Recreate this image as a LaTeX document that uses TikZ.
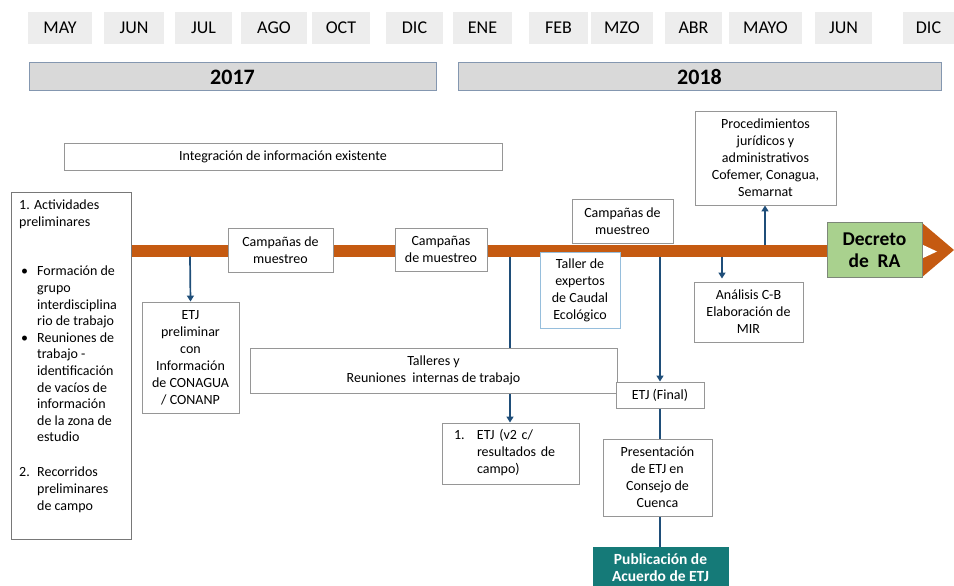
\documentclass[tikz,border=0pt]{standalone}
\usepackage{fontspec}
\setmainfont{Carlito}
\usetikzlibrary{arrows.meta,backgrounds}
\definecolor{monthgray}{RGB}{237,237,237}
\definecolor{yeargray}{RGB}{217,217,217}
\definecolor{yearborder}{RGB}{132,151,176}
\definecolor{boxgray}{RGB}{150,150,150}
\definecolor{darkgray}{RGB}{120,120,120}
\definecolor{tallerblue}{RGB}{150,190,220}
\definecolor{barorange}{RGB}{197,90,17}
\definecolor{connblue}{RGB}{31,78,121}
\definecolor{decgreen}{RGB}{169,209,142}
\definecolor{decborder}{RGB}{125,135,120}
\definecolor{teal}{RGB}{21,122,120}
\newcommand{\bodyfs}{\fontsize{14}{17}\selectfont}
\begin{document}
\begin{tikzpicture}[x=1pt,y=-1pt,
  month/.style={fill=monthgray, inner sep=0pt, font=\fontsize{18}{20}\selectfont},
  yearbar/.style={draw=yearborder, fill=yeargray, line width=1pt, inner sep=0pt, font=\bfseries\fontsize{22}{24}\selectfont},
  box/.style={draw=boxgray, fill=white, line width=0.9pt, align=center, inner sep=0pt, font=\bodyfs},
  conn/.style={draw=connblue, line width=1.7pt},
  arr/.style={conn, -{Triangle[width=7pt,length=6pt]}},
]
\useasboundingbox (0,0) rectangle (954,586);

% months
\foreach \a/\b/\t/\n in {28/92/MAY/m1, 104/164/JUN/m2, 175/232/JUL/m3, 241/307/AGO/m4, 312/370/OCT/m5, 386/443/DIC/m6, 453/512/ENE/m7, 529/588/FEB/m8, 591/653/MZO/m9, 665/722/ABR/m10, 729/802/MAYO/m11, 815/872/JUN/m12, 903/954/DIC/m13}
  \node[month, minimum width={(\b-\a)*1pt}, minimum height=32pt] (\n) at ({(\a+\b)/2},28) {\t};

% years
\node[yearbar, minimum width=407pt, minimum height=28pt] (y2017) at (232.5,77) {2017};
\node[yearbar, minimum width=483pt, minimum height=28pt] (y2018) at (699.5,77) {2018};

% boxes
\node[box, minimum width=438pt, minimum height=27pt] (integ) at (283,156.5) {Integración de información existente};

\node[box, draw=darkgray, minimum width=120pt, minimum height=347pt] (prelim) at (71,365.5) {};
\node[anchor=north west, inner sep=0pt, font=\fontsize{14}{16.6}\selectfont, align=left] (prelimtext) at (19,198) {%
\begin{tabular}{@{}p{18pt}@{}l@{}}
\multicolumn{2}{@{}l@{}}{1. Actividades}\\
\multicolumn{2}{@{}l@{}}{preliminares}\\[32.8pt]
\hspace{2pt}\textbullet & Formación de\\
& grupo\\
& interdisciplina\\
& rio de trabajo\\
\hspace{2pt}\textbullet & Reuniones de\\
& trabajo -\\
& identificación\\
& de vacíos de\\
& información\\
& de la zona de\\
& estudio\\[18.4pt]
2. & Recorridos\\
& preliminares\\
& de campo
\end{tabular}};

\node[box, minimum width=105pt, minimum height=44pt] (camp1) at (280.5,250) {Campañas de\\muestreo};
\node[box, minimum width=92pt, minimum height=43pt] (camp2) at (441,249.5) {Campañas\\de muestreo};
\node[box, minimum width=101pt, minimum height=44pt] (camp3) at (622.5,221) {Campañas de\\muestreo};
\node[box, draw=tallerblue, minimum width=80pt, minimum height=76pt] (taller) at (580,290) {Taller de\\expertos\\de Caudal\\Ecológico};
\node[box, minimum width=97pt, minimum height=111pt] (etjpre) at (190.5,357.5) {ETJ\\preliminar\\con\\Información\\de CONAGUA\\/ CONANP};
\node[box, minimum width=367pt, minimum height=45pt] (talleres) at (433.5,370.5) {Talleres y\\Reuniones\ \ internas de trabajo};
\node[box, align=left, text width=113pt, inner xsep=12pt, minimum height=61pt] (etjv2) at (510.5,453.5) {%
\begin{tabular}{@{}p{23pt}@{}l@{}}
1. & ETJ (v2 c/\\
& resultados de\\
& campo)
\end{tabular}};
\node[box, minimum width=88pt, minimum height=26pt] (final) at (660,395) {ETJ (Final)};
\node[box, minimum width=109pt, minimum height=77pt] (pres) at (657.5,477.5) {Presentación\\de ETJ en\\Consejo de\\Cuenca};
\node[box, draw=teal, fill=teal, text=white, font=\bfseries\fontsize{15.5}{17}\selectfont, minimum width=135pt, minimum height=42pt] (pub) at (660.5,568) {Publicación de\\Acuerdo de ETJ};
\node[box, minimum width=141pt, minimum height=94pt] (proc) at (765.5,158) {Procedimientos\\jurídicos y\\administrativos\\Cofemer, Conagua,\\Semarnat};
\node[box, minimum width=109pt, minimum height=60pt] (analisis) at (748.5,312) {Análisis C-B\\Elaboración de\\MIR};
\node[box, draw=decborder, fill=decgreen, font=\bfseries\fontsize{19.5}{22}\selectfont, minimum width=95pt, minimum height=55pt] (decreto) at (874.5,250) {Decreto\\de\ \ RA};

\coordinate (b1) at (190,256.5);
\coordinate (b2) at (510,256.5);
\coordinate (b3) at (660,256.5);
\coordinate (b4) at (722,256.5);
\coordinate (b5) at (765,244.5);

\begin{scope}[on background layer]
  \fill[barorange] (131,244.5) rectangle (921,256.5);
  \fill[barorange] (921,222) -- (954,250) -- (921,278) -- cycle;
  \fill[white] (921,244) -- (937,251.5) -- (921,259) -- cycle;
  \draw[arr] (b1) -- (etjpre.north);
  \draw[arr] (b2) -- (b2 |- etjv2.north);
  \draw[arr] (b3) -- (final.north);
  \draw[conn] (final.south) -- (final.south |- pres.north);
  \draw[conn] (final.south |- pres.south) -- (final.south |- pub.north);
  \draw[arr] (b4) -- ([yshift=3pt]b4 |- analisis.north);
  \draw[arr] (b5) -- (b5 |- proc.south);
\end{scope}
\end{tikzpicture}
\end{document}
